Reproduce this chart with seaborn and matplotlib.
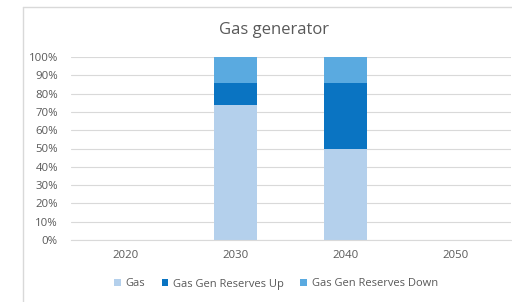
import matplotlib
matplotlib.use("Agg")
import matplotlib.pyplot as plt
import seaborn as sns
import pandas as pd
import numpy as np
from matplotlib.patches import Patch
from matplotlib.lines import Line2D

categories = ["2020", "2030", "2040", "2050"]
gas = [0, 74, 50, 0]
reserves_up = [0, 12, 36, 0]
reserves_down = [0, 14, 14, 0]
series_names = ["Gas", "Gas Gen Reserves Up", "Gas Gen Reserves Down"]
colors = ["#B4D0EC", "#0A74C2", "#5AAAE0"]
yticks = [0, 10, 20, 30, 40, 50, 60, 70, 80, 90, 100]

sns.set_theme(style="white")
plt.rcParams["font.family"] = ["Open Sans", "DejaVu Sans"]

fig = plt.figure(figsize=(5.12, 3.02), dpi=100)
fig.patch.set_facecolor("white")
# chart frame (left and top edges only; the rest is outside the picture)
fx = 22.5 / 512
fy = 1 - 6.5 / 302
fig.add_artist(Line2D([fx, fx], [0, fy], transform=fig.transFigure,
                      color="#D9D9D9", linewidth=1.0))
fig.add_artist(Line2D([fx, 1], [fy, fy], transform=fig.transFigure,
                      color="#D9D9D9", linewidth=1.0))

ax = fig.add_axes([70.5 / 512, 1 - 240 / 302, 440 / 512, (240 - 57) / 302])
ax.patch.set_visible(False)

df = pd.DataFrame({"year": categories, "gas": gas, "up": reserves_up, "down": reserves_down})
bottom_up = np.array(gas)
bottom_down = np.array(gas) + np.array(reserves_up)

for vals, bottom, col in [(df["gas"], None, colors[0]),
                          (df["up"], bottom_up, colors[1]),
                          (df["down"], bottom_down, colors[2])]:
    kw = {} if bottom is None else {"bottom": bottom}
    sns.barplot(x=df["year"], y=vals, color=col, width=0.39, ax=ax,
                saturation=1, linewidth=0, errorbar=None, **kw)

ax.set_ylim(0, 100)
ax.set_xlim(-0.5, 3.5)
ax.set_yticks(yticks)
ax.set_yticklabels([f"{t}%" for t in yticks])
ax.yaxis.grid(True, color="#D9D9D9", linewidth=0.8)
ax.set_axisbelow(True)
for s in ["top", "right", "left"]:
    ax.spines[s].set_visible(False)
ax.spines["bottom"].set_color("#D9D9D9")
ax.spines["bottom"].set_linewidth(0.8)
ax.tick_params(axis="both", length=0, colors="#595959", labelsize=8.2)
ax.tick_params(axis="y", pad=9)
ax.tick_params(axis="x", pad=7)
ax.set_xlabel("")
ax.set_ylabel("")

fig.text(274 / 512, 1 - 30 / 302, "Gas generator", ha="center", va="center",
         fontsize=12, color="#595959")

handles = [Patch(facecolor=c, edgecolor="none") for c in colors]
fig.legend(handles, series_names, loc="center", bbox_to_anchor=(276 / 512, 1 - 284 / 302),
           ncol=3, frameon=False, fontsize=8, labelcolor="#595959",
           handlelength=0.6, handleheight=0.6, handletextpad=0.4, columnspacing=1.5)

fig.savefig("out.png", dpi=100, facecolor="white")
